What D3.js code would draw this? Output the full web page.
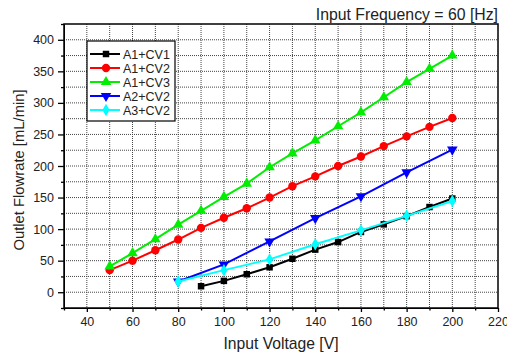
<!DOCTYPE html>
<html>
<head>
<meta charset="utf-8">
<script src="https://cdn.jsdelivr.net/npm/d3@7"></script>
<style>
  body { margin: 0; background: #fff; }
  svg { display: block; font-family: 'Liberation Sans', Arial, sans-serif; }
</style>
</head>
<body>
<svg id="chart" width="507" height="354"></svg>
<script>
// data
const voltsA1CV1 = [90, 100, 110, 120, 130, 140, 150, 160, 170, 180, 190, 200]
const flowA1CV1 = [9.5, 18, 28.5, 39.5, 53, 67.5, 79.5, 95.5, 107.5, 120.5, 135, 148.5]
const voltsA1 = [50, 60, 70, 80, 90, 100, 110, 120, 130, 140, 150, 160, 170, 180, 190, 200]
const flowA1CV2 = [35, 50, 66.5, 83.5, 102, 118, 133, 150, 168, 183.5, 200, 215, 231.5, 247, 262, 276]
const flowA1CV3 = [41, 62, 84, 107, 129, 151, 172, 198, 220, 240.5, 263, 285, 309, 333, 354, 375]
const voltsA2A3 = [80, 100, 120, 140, 160, 180, 200]
const flowA2CV2 = [17, 44, 80.5, 117.5, 152, 190, 226]
const flowA3CV2 = [17, 35, 52, 76, 98, 121, 144.5]

const seriesNames = ['A1+CV1', 'A1+CV2', 'A1+CV3', 'A2+CV2', 'A3+CV2']
const seriesColors = ['#000000', '#ff0000', '#00ee00', '#0000ff', '#00ffff']
const xTicks = [40, 60, 80, 100, 120, 140, 160, 180, 200, 220]
const yTicks = [0, 50, 100, 150, 200, 250, 300, 350, 400]

const series = [
  { name: seriesNames[0], x: voltsA1CV1, y: flowA1CV1, color: seriesColors[0], symbol: d3.symbolSquare },
  { name: seriesNames[1], x: voltsA1, y: flowA1CV2, color: seriesColors[1], symbol: d3.symbolCircle },
  { name: seriesNames[2], x: voltsA1, y: flowA1CV3, color: seriesColors[2], symbol: d3.symbolTriangle },
  { name: seriesNames[3], x: voltsA2A3, y: flowA2CV2, color: seriesColors[3], symbol: 'down' },
  { name: seriesNames[4], x: voltsA2A3, y: flowA3CV2, color: seriesColors[4], symbol: d3.symbolDiamond },
]

const svg = d3.select('#chart')
const margin = { top: 24, right: 9, bottom: 46, left: 64 }
const width = 507 - margin.left - margin.right
const height = 354 - margin.top - margin.bottom

const x = d3.scaleLinear().domain([30, 220]).range([0, width])
const y = d3.scaleLinear().domain([-25, 425]).range([height, 0])

const g = svg.append('g').attr('transform', `translate(${margin.left},${margin.top})`)

// dotted grid every minor step
const xGrid = d3.range(40, 220, 10)
const yGrid = d3.range(0, 425, 25)
g.selectAll('.gx')
  .data(xGrid)
  .enter()
  .append('line')
  .attr('x1', d => x(d))
  .attr('x2', d => x(d))
  .attr('y1', 0)
  .attr('y2', height)
  .attr('stroke', '#444')
  .attr('stroke-width', 1)
  .attr('stroke-dasharray', '1,1')
g.selectAll('.gy')
  .data(yGrid)
  .enter()
  .append('line')
  .attr('x1', 0)
  .attr('x2', width)
  .attr('y1', d => y(d))
  .attr('y2', d => y(d))
  .attr('stroke', '#444')
  .attr('stroke-width', 1)
  .attr('stroke-dasharray', '1,1')

// axes
g.append('g')
  .attr('transform', `translate(0,${height})`)
  .call(d3.axisBottom(x).tickValues(xTicks).tickSize(4).tickSizeOuter(0).tickPadding(5))
g.append('g')
  .attr('transform', `translate(0,${height})`)
  .call(d3.axisBottom(x).tickValues(d3.range(30, 221, 10).filter(d => d % 20 !== 0)).tickSize(2.5).tickSizeOuter(0).tickFormat(''))
  .select('.domain').remove()

g.append('g')
  .call(d3.axisLeft(y).tickValues(yTicks).tickSize(6).tickSizeOuter(0).tickPadding(4))
g.append('g')
  .call(d3.axisLeft(y).tickValues(d3.range(-25, 426, 50)).tickSize(3).tickSizeOuter(0).tickFormat(''))
  .select('.domain').remove()

g.selectAll('.tick text').attr('font-size', '12.5px').attr('fill', '#222').attr('font-family', "'Liberation Sans', Arial, sans-serif")
g.selectAll('.tick line').attr('stroke', '#000').attr('stroke-width', 1.3)

// frame
g.append('rect')
  .attr('width', width)
  .attr('height', height)
  .attr('fill', 'none')
  .attr('stroke', '#000')
  .attr('stroke-width', 1.5)

const line = d3.line().x(d => x(d[0])).y(d => y(d[1]))

const markerPath = (s, size) => {
  if (s === 'down') return d3.symbol(d3.symbolTriangle, size)()
  return d3.symbol(s, size)()
}
const markerSize = s => (s === d3.symbolSquare ? 42 : s === d3.symbolCircle ? 55 : s === d3.symbolDiamond ? 45 : 48)

series.forEach(s => {
  const pts = s.x.map((v, i) => [v, s.y[i]])
  g.append('path')
    .datum(pts)
    .attr('fill', 'none')
    .attr('stroke', s.color)
    .attr('stroke-width', 2)
    .attr('d', line)
  g.selectAll(null)
    .data(pts)
    .enter()
    .append('path')
    .attr('d', markerPath(s.symbol, markerSize(s.symbol)))
    .attr('transform', d => `translate(${x(d[0])},${y(d[1])})${s.symbol === 'down' ? ' rotate(180)' : ''}`)
    .attr('fill', s.color)
})

// legend
const legend = svg.append('g').attr('transform', 'translate(87,41)')
legend.append('rect')
  .attr('width', 88)
  .attr('height', 80)
  .attr('fill', '#fff')
  .attr('stroke', '#000')
  .attr('stroke-width', 1.2)
const rows = legend.selectAll('.row')
  .data(series)
  .enter()
  .append('g')
  .attr('transform', (d, i) => `translate(0,${13 + i * 14})`)
rows.append('line')
  .attr('x1', 3)
  .attr('x2', 33)
  .attr('stroke', d => d.color)
  .attr('stroke-width', 2)
rows.append('path')
  .attr('d', d => markerPath(d.symbol, markerSize(d.symbol)))
  .attr('transform', d => `translate(19,0)${d.symbol === 'down' ? ' rotate(180)' : ''}`)
  .attr('fill', d => d.color)
rows.append('text')
  .attr('x', 36)
  .attr('dy', '0.36em')
  .attr('font-size', '12.5px')
  .attr('fill', '#222')
  .text(d => d.name)

// titles
svg.append('text')
  .attr('x', 498)
  .attr('y', 20)
  .attr('text-anchor', 'end')
  .attr('font-size', '15.8px')
  .attr('fill', '#222')
  .text('Input Frequency = 60 [Hz]')

svg.append('text')
  .attr('x', margin.left + width / 2)
  .attr('y', 349)
  .attr('text-anchor', 'middle')
  .attr('font-size', '15.7px')
  .attr('fill', '#222')
  .text('Input Voltage [V]')

svg.append('text')
  .attr('transform', 'translate(24,170) rotate(-90)')
  .attr('text-anchor', 'middle')
  .attr('font-size', '14.8px')
  .attr('fill', '#222')
  .text('Outlet Flowrate [mL/min]')
</script>
</body>
</html>
